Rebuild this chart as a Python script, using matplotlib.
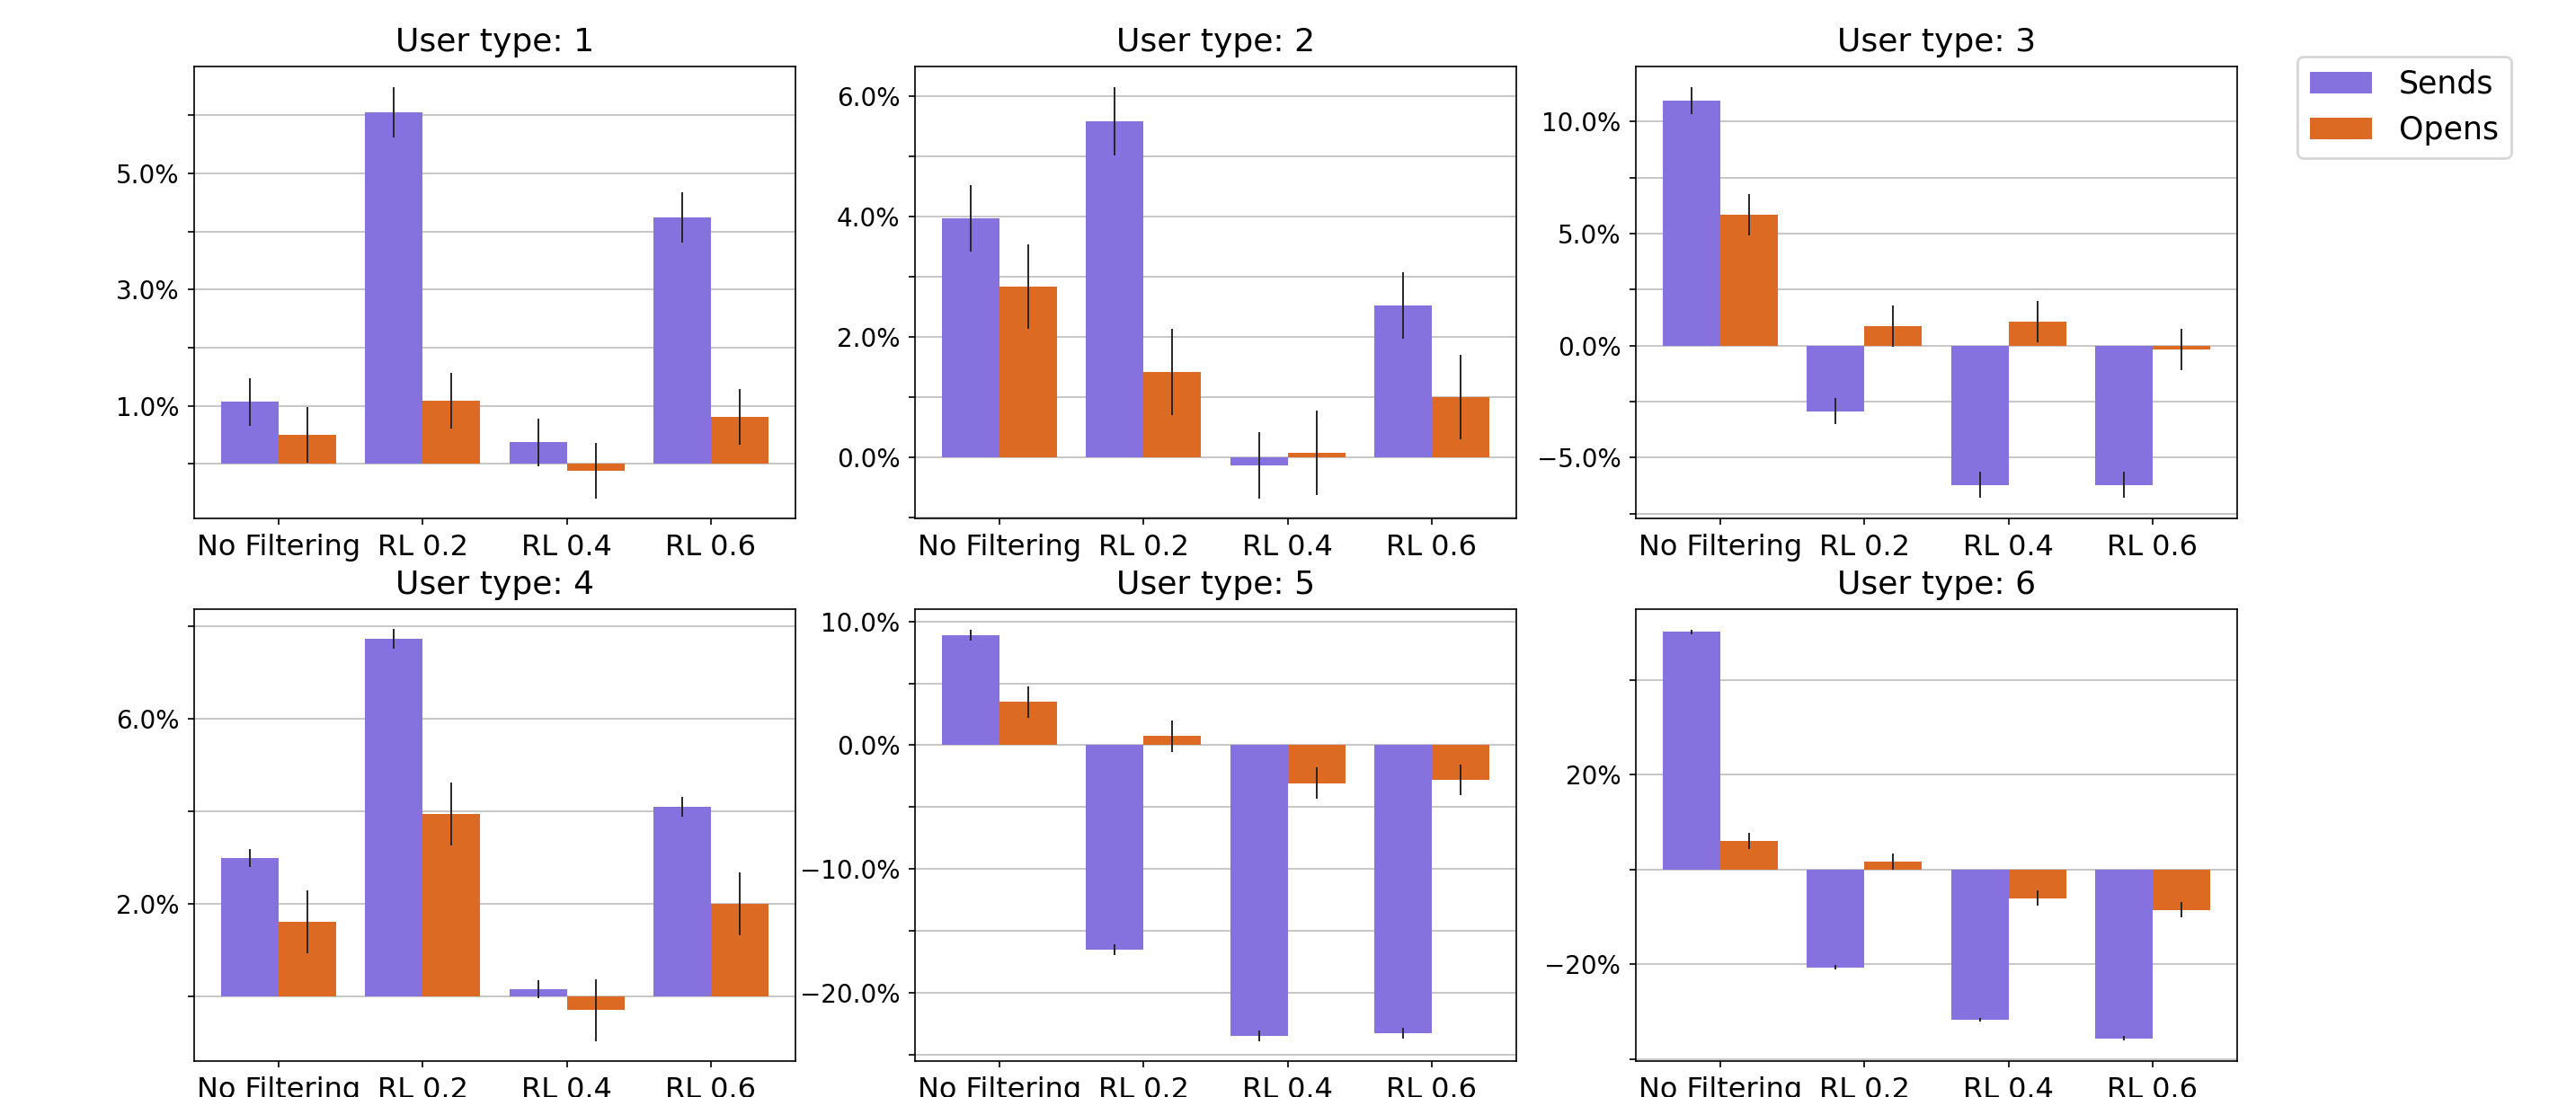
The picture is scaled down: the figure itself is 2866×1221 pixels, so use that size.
# Sends / Opens change per user type, 2x3 grouped bars with error bars

import matplotlib.pyplot as plt
import numpy as np

# Data (values in %)
categories = ['No Filtering', 'RL 0.2', 'RL 0.4', 'RL 0.6']
user_types = [1, 2, 3, 4, 5, 6]

sends_1 = [1.07, 6.05, 0.37, 4.24]
sends_err_1 = [0.41, 0.43, 0.41, 0.43]
opens_1 = [0.50, 1.08, -0.12, 0.81]
opens_err_1 = [0.48, 0.48, 0.475, 0.48]

sends_2 = [3.97, 5.58, -0.13, 2.52]
sends_err_2 = [0.55, 0.565, 0.545, 0.555]
opens_2 = [2.835, 1.42, 0.075, 1.00]
opens_err_2 = [0.70, 0.71, 0.70, 0.70]

sends_3 = [10.93, -2.92, -6.22, -6.22]
sends_err_3 = [0.61, 0.595, 0.58, 0.58]
opens_3 = [5.85, 0.87, 1.07, -0.16]
opens_err_3 = [0.93, 0.92, 0.925, 0.92]

sends_4 = [2.99, 7.73, 0.15, 4.10]
sends_err_4 = [0.20, 0.21, 0.20, 0.21]
opens_4 = [1.62, 3.94, -0.30, 2.00]
opens_err_4 = [0.68, 0.675, 0.67, 0.675]

sends_5 = [8.89, -16.53, -23.52, -23.29]
sends_err_5 = [0.43, 0.46, 0.42, 0.43]
opens_5 = [3.51, 0.75, -3.06, -2.79]
opens_err_5 = [1.27, 1.27, 1.25, 1.25]

sends_6 = [50.18, -20.65, -31.70, -35.64]
sends_err_6 = [0.44, 0.44, 0.44, 0.44]
opens_6 = [6.04, 1.67, -6.04, -8.51]
opens_err_6 = [1.67, 1.67, 1.67, 1.67]

sends = [sends_1, sends_2, sends_3, sends_4, sends_5, sends_6]
sends_err = [sends_err_1, sends_err_2, sends_err_3, sends_err_4, sends_err_5, sends_err_6]
opens = [opens_1, opens_2, opens_3, opens_4, opens_5, opens_6]
opens_err = [opens_err_1, opens_err_2, opens_err_3, opens_err_4, opens_err_5, opens_err_6]

# axis settings per panel
ylims = [(-0.94, 6.84), (-1.01, 6.49), (-7.71, 12.46),
         (-1.40, 8.37), (-25.54, 11.0), (-40.44, 54.98)]
ytick_step = [1, 1, 2.5, 2, 5, 20]
ytick_decimals = [1, 1, 1, 1, 1, 0]

sends_color = '#8572DF'
opens_color = '#DD6A23'
err_color = '#262626'

fig = plt.figure(figsize=(14.33, 6.105), dpi=200)

lefts = [216, 1018, 1820]
tops = [74, 678]
W, H = 2866, 1221
ax_w, ax_h = 669, 503

x = np.arange(len(categories))
bw = 0.4

for i, ut in enumerate(user_types):
    row, col = divmod(i, 3)
    ax = fig.add_axes([lefts[col] / W, 1 - (tops[row] + ax_h) / H, ax_w / W, ax_h / H])

    ax.bar(x - bw / 2, sends[i], width=bw, color=sends_color, label='Sends', zorder=2)
    ax.bar(x + bw / 2, opens[i], width=bw, color=opens_color, label='Opens', zorder=2)
    ax.errorbar(x - bw / 2, sends[i], yerr=sends_err[i], fmt='none',
                ecolor=err_color, elinewidth=0.7, capsize=0, zorder=3)
    ax.errorbar(x + bw / 2, opens[i], yerr=opens_err[i], fmt='none',
                ecolor=err_color, elinewidth=0.7, capsize=0, zorder=3)

    lo, hi = ylims[i]
    step = ytick_step[i]
    ticks = np.arange(np.ceil(lo / step) * step, hi, step)
    labels = []
    for k, t in enumerate(ticks):
        if k % 2 == 1:
            s = f'{t:.{ytick_decimals[i]}f}%'
            labels.append(s.replace('-', '\u2212'))
        else:
            labels.append('')
    ax.set_yticks(ticks)
    ax.set_yticklabels(labels, fontsize=10)
    ax.set_ylim(lo, hi)

    ax.set_xticks(x)
    ax.set_xticklabels(categories, fontsize=11.5)
    ax.set_xlim(-0.59, 3.59)
    ax.tick_params(length=2.5, width=0.6)

    ax.grid(True, axis='y', color='#bdbdbd', linewidth=0.6)
    ax.set_axisbelow(True)
    for sp in ax.spines.values():
        sp.set_linewidth(0.6)

    ax.set_title(f'User type: {ut}', fontsize=13)

    if i == 0:
        handles, leg_labels = ax.get_legend_handles_labels()

fig.legend(handles, leg_labels, loc='upper left', bbox_to_anchor=(2556 / W, 1 - 63 / H),
           borderaxespad=0, fontsize=12.5, handlelength=2.0, handletextpad=0.85)

plt.savefig('out.png')
